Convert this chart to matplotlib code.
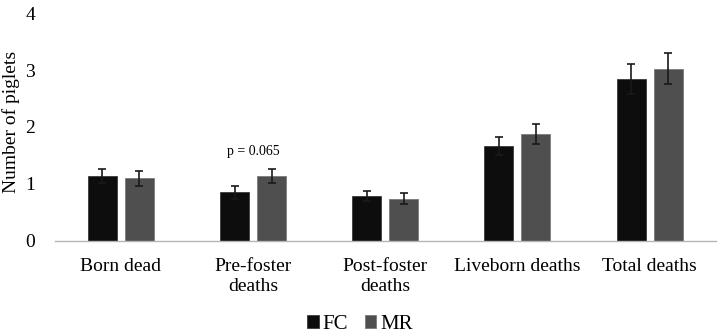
import numpy as np
import matplotlib
matplotlib.use("Agg")
import matplotlib.pyplot as plt

categories = ["Born dead", "Pre-foster\ndeaths", "Post-foster\ndeaths", "Liveborn deaths", "Total deaths"]
fc_vals = [1.14, 0.85, 0.79, 1.66, 2.84]
fc_err = [0.13, 0.11, 0.09, 0.16, 0.26]
mr_vals = [1.10, 1.14, 0.74, 1.88, 3.02]
mr_err = [0.13, 0.12, 0.10, 0.18, 0.27]
series = ["FC", "MR"]

plt.rcParams['font.family'] = ['Liberation Serif', 'DejaVu Serif']

fig = plt.figure(figsize=(7.2, 3.35), dpi=100)
ax = fig.add_axes([0.076, 0.281, 0.918, 0.68])

x = np.arange(len(categories))
w = 0.22
off = 0.14
ekw = dict(ecolor='#1a1a1a', elinewidth=1.2, capsize=2.6, capthick=1.2)
ax.bar(x - off, fc_vals, w, yerr=fc_err, color='#0d0d0d', edgecolor='#3a3a3a',
       linewidth=0.6, error_kw=ekw, label=series[0])
ax.bar(x + off, mr_vals, w, yerr=mr_err, color='#4f4f4f', edgecolor='#7a7a7a',
       linewidth=0.6, error_kw=ekw, label=series[1])

ax.text(x[1], 1.45, "p = 0.065", ha='center', va='bottom', fontsize=10)

ax.set_xlim(-0.5, len(categories) - 0.5)
ax.set_ylim(0, 4)
ax.set_yticks([0, 1, 2, 3, 4])
ax.set_xticks(x)
ax.set_xticklabels(categories, fontsize=14, linespacing=1.25)
ax.tick_params(axis='y', labelsize=14, length=0, pad=14)
ax.tick_params(axis='x', length=0, pad=12)
for s in ['top', 'right', 'left']:
    ax.spines[s].set_visible(False)
ax.spines['bottom'].set_color('#b5b5b5')
ax.spines['bottom'].set_linewidth(1.0)
ax.set_ylabel("Number of piglets", fontsize=14)
ax.yaxis.set_label_coords(-0.052, 0.52)

fig.legend(loc='lower center', bbox_to_anchor=(0.5, -0.052), ncol=2, frameon=False,
           fontsize=15, handlelength=0.55, handleheight=0.55, handletextpad=0.2,
           columnspacing=0.8)

fig.savefig("out.png", dpi=100)
